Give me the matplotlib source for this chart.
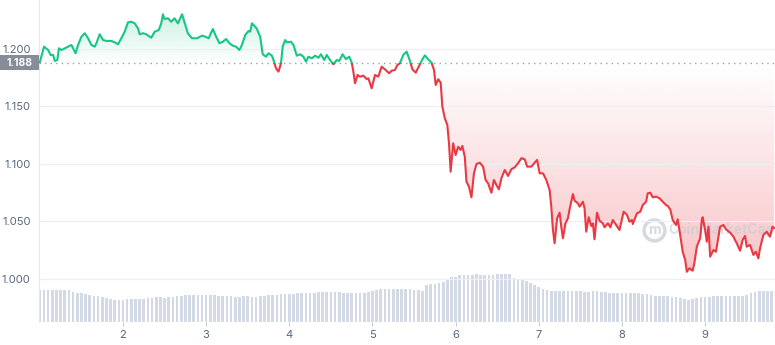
import numpy as np
import matplotlib
matplotlib.use('Agg')
import matplotlib.pyplot as plt
import matplotlib.colors as mcolors
from matplotlib.patches import PathPatch, Rectangle
from matplotlib.path import Path

plt.rcParams['font.family'] = ['Inter', 'DejaVu Sans']

# price series (day of month, price)
days = [
    1.00, 1.05, 1.10, 1.13, 1.16, 1.18, 1.21, 1.23, 1.26, 1.30, 1.34, 1.38, 1.40, 1.43,
    1.46, 1.50, 1.54, 1.58, 1.62, 1.66, 1.68, 1.72, 1.76, 1.80, 1.86, 1.90, 1.94, 1.98,
    2.02, 2.06, 2.10, 2.14, 2.18, 2.20, 2.24, 2.28, 2.34, 2.38, 2.43, 2.46, 2.48, 2.50,
    2.54, 2.58, 2.62, 2.66, 2.71, 2.75, 2.78, 2.83, 2.89, 2.95, 2.99,
    3.03, 3.08, 3.12, 3.16, 3.20, 3.24, 3.28, 3.32, 3.36, 3.40, 3.43, 3.47, 3.51, 3.53,
    3.55, 3.59, 3.61, 3.65, 3.68, 3.72, 3.75, 3.79, 3.81, 3.84, 3.87, 3.90, 3.92, 3.95, 3.97,
    4.02, 4.05, 4.09, 4.13, 4.17, 4.20, 4.23, 4.27, 4.31, 4.35, 4.38, 4.42, 4.45, 4.49,
    4.53, 4.57, 4.60, 4.64, 4.68, 4.72, 4.75, 4.77, 4.79, 4.82, 4.85, 4.89, 4.93, 4.95, 4.99,
    5.03, 5.07, 5.11, 5.15, 5.20, 5.23, 5.27, 5.30, 5.33, 5.37, 5.41, 5.45, 5.48, 5.52,
    5.56, 5.60, 5.63, 5.67, 5.71, 5.74, 5.76, 5.79, 5.82, 5.84, 5.87, 5.90, 5.92, 5.94, 5.97,
    6.00, 6.03, 6.06, 6.08, 6.11, 6.13, 6.16, 6.19, 6.22, 6.25, 6.29, 6.33, 6.36, 6.39,
    6.43, 6.46, 6.49, 6.52, 6.55, 6.59, 6.63, 6.67, 6.71, 6.75, 6.79, 6.83, 6.86, 6.91, 6.95, 6.98,
    7.01, 7.05, 7.09, 7.13, 7.15, 7.17, 7.19, 7.22, 7.25, 7.27, 7.29, 7.32, 7.35, 7.37,
    7.41, 7.43, 7.47, 7.49, 7.53, 7.55, 7.57, 7.60, 7.63, 7.65, 7.67, 7.70, 7.73, 7.77,
    7.79, 7.83, 7.86, 7.89, 7.93, 7.97,
    8.02, 8.06, 8.09, 8.12, 8.13, 8.18, 8.22, 8.25, 8.29, 8.31, 8.34, 8.37, 8.41, 8.45,
    8.49, 8.53, 8.55, 8.58, 8.61, 8.65, 8.67, 8.70, 8.73, 8.76, 8.78, 8.81, 8.85, 8.87,
    8.90, 8.94, 8.96, 8.97,
    9.00, 9.02, 9.04, 9.06, 9.10, 9.13, 9.15, 9.18, 9.22, 9.25, 9.30, 9.34, 9.38, 9.42,
    9.45, 9.48, 9.50, 9.54, 9.58, 9.61, 9.64, 9.66, 9.70, 9.74, 9.78, 9.81, 9.83,
]
prices = [
    1.1884, 1.2020, 1.1991, 1.1948, 1.1948, 1.1896, 1.1904, 1.2006, 1.1991, 1.2006, 1.2020, 1.2035, 1.2006, 1.1963,
    1.2035, 1.2107, 1.2137, 1.2093, 1.2035, 1.2020, 1.2050, 1.2128, 1.2078, 1.2070, 1.2070, 1.2058, 1.2041, 1.2093,
    1.2150, 1.2232, 1.2237, 1.2223, 1.2180, 1.2128, 1.2137, 1.2128, 1.2098, 1.2150, 1.2165, 1.2223, 1.2302, 1.2261,
    1.2267, 1.2237, 1.2267, 1.2223, 1.2302, 1.2209, 1.2137, 1.2093, 1.2093, 1.2116, 1.2107,
    1.2093, 1.2174, 1.2107, 1.2050, 1.2063, 1.2087, 1.2050, 1.2029, 1.2020, 1.1991, 1.2035, 1.2122, 1.2157, 1.2150,
    1.2223, 1.2194, 1.2174, 1.2107, 1.1954, 1.1933, 1.1963, 1.1942, 1.1904, 1.1832, 1.1803, 1.1876, 1.2020, 1.2078, 1.2058,
    1.2063, 1.2035, 1.1942, 1.1954, 1.1933, 1.1890, 1.1933, 1.1919, 1.1942, 1.1924, 1.1954, 1.1904, 1.1948, 1.1904,
    1.1867, 1.1904, 1.1896, 1.1954, 1.1913, 1.1933, 1.1884, 1.1803, 1.1702, 1.1774, 1.1759, 1.1768, 1.1739, 1.1745, 1.1658,
    1.1774, 1.1759, 1.1846, 1.1823, 1.1789, 1.1811, 1.1817, 1.1861, 1.1876, 1.1948, 1.1977, 1.1898, 1.1823, 1.1794,
    1.1852, 1.1910, 1.1945, 1.1910, 1.1881, 1.1817, 1.1687, 1.1737, 1.1707, 1.1498, 1.1397, 1.1339, 1.1180, 1.0933, 1.1180,
    1.1078, 1.1150, 1.1122, 1.1157, 1.1063, 1.0846, 1.0803, 1.0710, 1.0919, 1.1000, 1.1011, 1.0977, 1.0861, 1.0832,
    1.0750, 1.0861, 1.0817, 1.0780, 1.0876, 1.0948, 1.0896, 1.0954, 1.0971, 1.1006, 1.1050, 1.1041, 1.0977, 1.0977, 1.1011, 1.1035,
    1.0919, 1.0919, 1.0861, 1.0774, 1.0629, 1.0426, 1.0310, 1.0528, 1.0577, 1.0455, 1.0354, 1.0484, 1.0528, 1.0606,
    1.0739, 1.0681, 1.0658, 1.0629, 1.0672, 1.0615, 1.0411, 1.0537, 1.0461, 1.0484, 1.0345, 1.0577, 1.0507, 1.0484,
    1.0450, 1.0484, 1.0450, 1.0513, 1.0470, 1.0426,
    1.0585, 1.0557, 1.0498, 1.0513, 1.0478, 1.0571, 1.0585, 1.0643, 1.0672, 1.0745, 1.0750, 1.0710, 1.0716, 1.0702,
    1.0672, 1.0643, 1.0635, 1.0606, 1.0513, 1.0470, 1.0519, 1.0383, 1.0237, 1.0165, 1.0063, 1.0093, 1.0072, 1.0137,
    1.0281, 1.0354, 1.0513, 1.0537,
    1.0426, 1.0324, 1.0455, 1.0194, 1.0252, 1.0237, 1.0324, 1.0455, 1.0470, 1.0432, 1.0403, 1.0368, 1.0310, 1.0246,
    1.0339, 1.0374, 1.0281, 1.0296, 1.0209, 1.0237, 1.0180, 1.0267, 1.0383, 1.0411, 1.0368, 1.0455, 1.0443,
]
open_price = 1.188

# volume bars, one every 0.05 day starting at day 1.00
vol_start = 1.00
vol_step = 0.05
volume = [
    32, 32, 32, 32, 32, 32, 32, 32, 30, 29, 28.5, 28, 26.5, 26, 25.5, 24.5, 23.5, 22.5, 22, 22,
    22, 22.5, 23, 23, 23, 23, 23.5, 24, 24.5, 24.5, 24, 24.5, 25, 25.5, 26, 26.5, 26.5, 26.5, 27, 27,
    27, 27, 26.5, 25.5, 25.5, 25.5, 25.5, 25, 25, 25.5, 25.5, 25, 25, 25.5, 26, 26.5, 27, 27, 27.5, 28,
    28, 28, 28.5, 28.5, 29, 29, 29, 29.5, 29.5, 30, 30, 30, 29.5, 29, 29, 29, 29, 29, 29, 29.5,
    31, 32, 32.5, 32.5, 32.5, 32.5, 33, 32.5, 32.5, 32.5, 32, 31.5, 31, 37, 38, 38, 38.5, 40, 43, 44.5,
    45, 46.5, 47, 47, 47, 47.5, 47, 47, 47, 47, 47.5, 47.5, 48, 47.5, 44, 42, 42, 41, 38.5, 37,
    34.5, 33, 32, 31, 30.5, 30.5, 30.5, 30.5, 30.5, 30.5, 30.5, 30, 30, 30.5, 30.5, 30, 29.5, 29, 29, 29,
    29, 29, 28.5, 28.5, 28.5, 28, 27.5, 26.5, 26, 26, 26, 25.5, 25, 24.5, 23.5, 22.5, 22, 23, 24, 24.5,
    25, 25, 25.5, 25.5, 25.5, 25.5, 25.5, 25.5, 25.5, 26, 27, 28.5, 30, 30.5, 30.5, 30.5, 30.5,
]

x_ticks = [2, 3, 4, 5, 6, 7, 8, 9]
y_ticks = [1.000, 1.050, 1.100, 1.150, 1.200]

GREEN = '#16c784'
RED = '#ea3943'
TXT = '#58667e'

days = np.array(days)
prices = np.array(prices)
vol_x = vol_start + vol_step * np.arange(len(volume))

fig = plt.figure(figsize=(7.75, 3.45), dpi=100)
ax = fig.add_axes([39 / 775, 23 / 345, 736 / 775, 322 / 345])
ax2 = ax.twinx()
ax.set_zorder(ax2.get_zorder() + 1)
ax.patch.set_visible(False)

# volume
ax2.bar(vol_x, volume, width=0.032, color='#d3dae6', linewidth=0)
ax2.set_ylim(0, max(volume) * 6.7)
ax2.axis('off')

xlim = (0.99, 9.84)
ylim = (0.9626, 1.2426)


def gradient_fill(x, y, base, above, color, amax, far):
    mask = y >= base if above else y <= base
    poly = ax.fill_between(x, y, base, where=mask, interpolate=True,
                           facecolor='none', edgecolor='none')
    path = Path.make_compound_path(*poly.get_paths())
    patch = PathPatch(path, transform=ax.transData, facecolor='none', edgecolor='none')
    ax.add_patch(patch)
    rgba = np.zeros((256, 1, 4))
    rgba[..., :3] = mcolors.to_rgb(color)
    if above:
        rgba[:, 0, 3] = np.linspace(0, amax, 256)
        ext = [xlim[0], xlim[1], base, far]
    else:
        rgba[:, 0, 3] = np.linspace(amax, 0, 256)
        ext = [xlim[0], xlim[1], far, base]
    im = ax.imshow(rgba, extent=ext, origin='lower', aspect='auto', zorder=1)
    im.set_clip_path(patch)


gradient_fill(days, prices, open_price, True, GREEN, 0.22, prices.max())
gradient_fill(days, prices, open_price, False, RED, 0.30, prices.min())

# watermark
ax.plot(8.39, 1.043, marker='o', ms=15, mfc='none', mec='#c5cad3', mew=2.5, alpha=0.7, zorder=1)
ax.text(8.39, 1.043, 'm', color='#c5cad3', fontsize=10, fontweight='bold',
        ha='center', va='center', alpha=0.7, zorder=1)
ax.text(8.56, 1.043, 'CoinMarketCap', color='#c5cad3', fontsize=10, fontweight='bold',
        va='center', alpha=0.6, zorder=1)

# price line, green above the open price and red below it
for col, y0, y1 in [(GREEN, open_price, 2.0), (RED, 0.0, open_price)]:
    ln, = ax.plot(days, prices, color=col, lw=1.5, zorder=3, solid_joinstyle='round')
    rect = Rectangle((0, y0), 20, y1 - y0, transform=ax.transData)
    ln.set_clip_path(rect)

ax.axhline(open_price, color='#9aa0aa', lw=1, ls=(0, (1, 3)), zorder=2)

ax.set_xlim(*xlim)
ax.set_ylim(*ylim)
ax.set_xticks(x_ticks)
ax.set_xticklabels([str(t) for t in x_ticks])
ax.set_yticks(y_ticks)
ax.set_yticklabels(['{:.3f}'.format(t) for t in y_ticks])
ax.grid(axis='y', color='#eceff3', lw=0.9, zorder=0)
ax.tick_params(axis='y', length=0, pad=6, labelsize=8, labelcolor=TXT)
ax.tick_params(axis='x', length=3, color='#c8ccd2', pad=3, labelsize=8, labelcolor=TXT)
for s in ['top', 'right', 'bottom']:
    ax.spines[s].set_visible(False)
ax.spines['left'].set_color('#e3e6ea')

# open price label on the y axis
fig.patches.append(Rectangle((0, (345 - 70) / 345), 39 / 775, 15 / 345,
                             transform=fig.transFigure, facecolor='#868d99',
                             edgecolor='none'))
fig.text(19.5 / 775, (345 - 62.5) / 345, '{:.3f}'.format(open_price), color='white',
         fontsize=7.5, fontweight='bold', ha='center', va='center')

fig.savefig('out.png', dpi=100, facecolor='white')
